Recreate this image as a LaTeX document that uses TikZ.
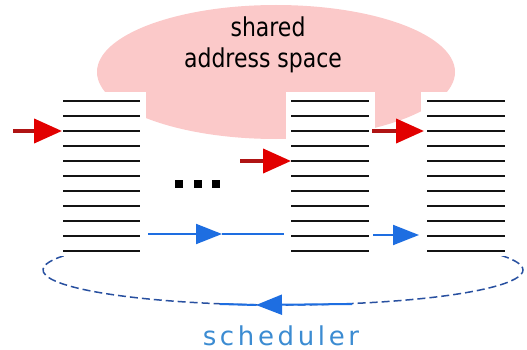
\documentclass[tikz,border=0pt]{standalone}
\usepackage{fontspec}
\setmainfont{DejaVu Sans}
\usetikzlibrary{shapes.geometric,arrows.meta}

\definecolor{memfill}{RGB}{251,201,201}
\definecolor{redhead}{RGB}{226,0,0}
\definecolor{redshaft}{RGB}{175,20,20}
\definecolor{bluearrow}{RGB}{30,110,225}
\definecolor{schedring}{RGB}{40,80,160}
\definecolor{schedtext}{RGB}{60,140,210}
\definecolor{rungcolor}{RGB}{20,20,20}

\tikzset{
  stackbox/.style={rectangle, fill=white, draw=none, minimum width=89pt, minimum height=163pt, inner sep=0pt},
  rung/.style={draw=rungcolor, line width=2.6pt},
  pcarrow/.style={draw=redshaft, line width=4pt,
    -{Triangle[length=28pt, width=24pt, color=redhead]}},
  schedarrow/.style={draw=bluearrow, line width=2pt,
    -{Triangle[length=26pt, width=20pt, color=bluearrow]}},
  schedline/.style={draw=bluearrow, line width=2pt},
  ring/.style={draw=schedring, line width=1.5pt, dash pattern=on 8pt off 4pt},
  dotsq/.style={rectangle, fill=black, minimum size=8pt, inner sep=0pt},
  lbl/.style={font=\fontsize{26}{30}\selectfont, inner sep=0pt}
}

\begin{document}
\begin{tikzpicture}[x=1pt, y=-1pt]
\useasboundingbox (0,0) rectangle (527,350);

% shared memory region
\node[ellipse, fill=memfill, minimum width=358pt, minimum height=134pt, inner sep=0pt] (mem) at (276,72) {};

% scheduler ring (lower part; the upper part runs behind the threads)
\coordinate (ringc) at (283,270);
\draw[ring] (ringc) ++(150:240pt and 35pt) arc[start angle=150, end angle=390, x radius=240pt, y radius=35pt];

% thread stacks
\node[stackbox] (s1) at (101.5,174) {};
\node[stackbox] (s2) at (330.5,174) {};
\node[stackbox] (s3) at (465.5,174) {};

\foreach \xa/\xb in {63/140, 291/369, 427/505}
  \foreach \i in {0,...,10}
    \draw[rung] (\xa,{101+15*\i}) -- (\xb,{101+15*\i});

% ellipsis between the first two threads
\node[dotsq] (d1) at (179,184) {};
\node[dotsq] (d2) at (197.5,184) {};
\node[dotsq] (d3) at (216,184) {};

% program counters
\coordinate (pc1a) at (13,131);  \coordinate (pc1b) at (62,131);
\coordinate (pc2a) at (240,161); \coordinate (pc2b) at (291,161);
\coordinate (pc3a) at (372,131); \coordinate (pc3b) at (424,131);
\draw[pcarrow] (pc1a) -- (pc1b);
\draw[pcarrow] (pc2a) -- (pc2b);
\draw[pcarrow] (pc3a) -- (pc3b);

% scheduler hand-offs
\coordinate (h1a) at (148,234); \coordinate (h1t) at (222,234); \coordinate (h1b) at (284,234);
\coordinate (h2a) at (373,235); \coordinate (h2t) at (419,235);
\coordinate (h3a) at (352,304); \coordinate (h3t) at (256,305); \coordinate (h3b) at (220,304);
\draw[schedarrow] (h1a) -- (h1t);
\draw[schedline] (h1t) -- (h1b);
\draw[schedarrow] (h2a) -- (h2t);
\draw[schedarrow] (h3a) -- (h3t);
\draw[schedline] (h3t) -- (h3b);

% labels
\node[lbl, anchor=base] (t1) at (268,37) {\scalebox{0.845}[1]{shared}};
\node[lbl, anchor=base] (t2) at (263,68) {\scalebox{0.845}[1]{address space}};
\node[lbl, anchor=base, text=schedtext] (t3) at (281,345) {\addfontfeature{LetterSpace=14}scheduler};
\end{tikzpicture}
\end{document}
